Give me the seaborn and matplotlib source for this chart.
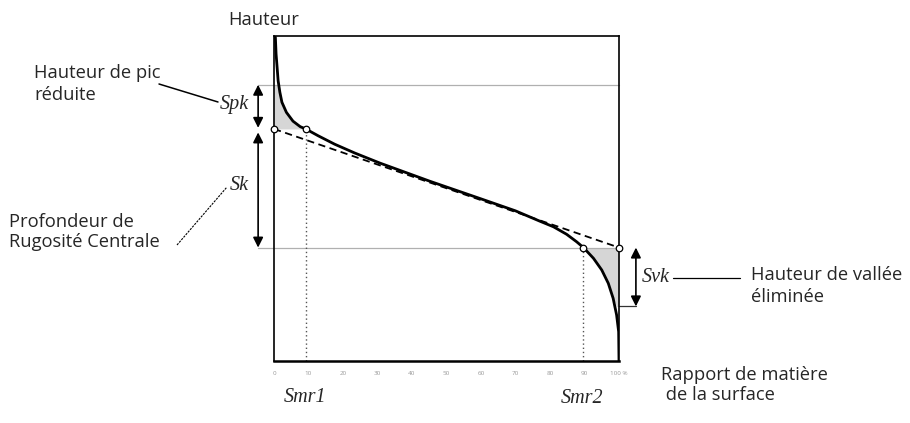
import matplotlib
matplotlib.use("Agg")
import matplotlib.pyplot as plt
from matplotlib.lines import Line2D
import numpy as np
import pandas as pd
import seaborn as sns

# ---------------- data ----------------
ratio_pct = [0, 0.4, 0.6, 0.9, 1.2, 1.7, 2.3, 3.6, 5.5, 7.6, 9.2, 12.8,
             17.6, 23.4, 30.7, 45.2, 59.7, 70.0, 77.1, 81.0, 84.8, 87.7,
             89.7, 92.6, 95.0, 96.9, 98.3, 99.3, 99.9, 100]
height = [100, 99.6, 94.5, 90.4, 86.2, 82.7, 79.6, 76.5, 73.8, 72.1, 71.4,
          69.3, 66.7, 64.0, 60.9, 55.3, 50.0, 46.2, 43.0, 41.3, 39.0, 36.7,
          34.9, 31.6, 28.0, 23.9, 19.3, 14.2, 9.0, 0]

spk_level = 85.0      # top of Spk
sk_top = 71.4         # top of core (Sk)
sk_bottom = 34.9      # bottom of core
svk_level = 16.8      # bottom of Svk
smr1 = 9.2
smr2 = 89.7

tick_values = [0, 10, 20, 30, 40, 50, 60, 70, 80, 90, 100]
tick_labels = ["0", "10", "20", "30", "40", "50", "60", "70", "80", "90", "100 %"]

# ---------------- style ----------------
sns.set_theme(style="white")
plt.rcParams["font.family"] = ["Open Sans", "DejaVu Sans"]

W, H = 910, 423
fig = plt.figure(figsize=(W / 100, H / 100), dpi=100)
fig.patch.set_facecolor("white")
ax = fig.add_axes([274 / W, 1 - 361 / H, 345 / W, 325 / H])
ax.set_facecolor("white")

df = pd.DataFrame({"ratio": ratio_pct, "height": height})
x = np.array(ratio_pct, dtype=float)
y = np.array(height, dtype=float)

# shaded areas
m1 = x <= smr1
ax.fill_between(x[m1], sk_top, np.minimum(y[m1], spk_level),
                color="#d6d6d6", lw=0, zorder=1)
m2 = x >= smr2
ax.fill_between(x[m2], np.maximum(y[m2], svk_level), sk_bottom,
                color="#d6d6d6", lw=0, zorder=1)

# horizontal reference lines
ax.plot([-4.6, 100], [spk_level, spk_level], color="#b0b0b0", lw=0.9,
        clip_on=False, zorder=2)
ax.plot([-4.6, 100], [sk_bottom, sk_bottom], color="#b0b0b0", lw=0.9,
        clip_on=False, zorder=2)

# equivalent straight line
ax.plot([0, 100], [sk_top, sk_bottom], color="black", lw=1.3,
        ls=(0, (4, 2.5)), zorder=3)

# dotted verticals
ax.plot([smr1, smr1], [0, sk_top], color="#555555", lw=1.0,
        ls=(0, (1, 2)), zorder=2)
ax.plot([smr2, smr2], [0, sk_bottom], color="#555555", lw=1.0,
        ls=(0, (1, 2)), zorder=2)

# bearing-area curve
sns.lineplot(data=df, x="ratio", y="height", sort=False, estimator=None,
             color="black", lw=2.0, ax=ax, zorder=4)

# circles
ax.scatter([0, smr1, smr2, 100], [sk_top, sk_top, sk_bottom, sk_bottom],
           s=22, facecolor="white", edgecolor="black", lw=0.9, zorder=6,
           clip_on=False)

ax.set_xlim(0, 100)
ax.set_ylim(0, 100)
ax.set_xlabel("")
ax.set_ylabel("")
ax.set_yticks([])
ax.set_xticks(tick_values)
ax.set_xticklabels(tick_labels, fontsize=4.5, color="#999999")
ax.tick_params(axis="x", length=0, pad=7)
for s in ax.spines.values():
    s.set_visible(True)
    s.set_color("black")
    s.set_linewidth(1.2)
ax.spines["bottom"].set_linewidth(1.8)

# arrows
ap = dict(arrowstyle="<|-|>,head_length=0.6,head_width=0.3", color="black",
          lw=1.2, mutation_scale=10)
ax.annotate("", xy=(-4.6, spk_level), xytext=(-4.6, sk_top),
            arrowprops=dict(ap, shrinkA=0.8, shrinkB=0), annotation_clip=False)
ax.annotate("", xy=(-4.6, sk_top), xytext=(-4.6, sk_bottom),
            arrowprops=dict(ap, shrinkA=0, shrinkB=2.5), annotation_clip=False)
ax.annotate("", xy=(104.9, sk_bottom), xytext=(104.9, svk_level),
            arrowprops=dict(ap, shrinkA=0, shrinkB=0), annotation_clip=False)
ax.plot([100, 104.9], [svk_level, svk_level], color="#333333", lw=0.9,
        clip_on=False)

# ---------------- text ----------------
def fp(px, py):
    return px / W, 1 - py / H

fs = 13.2
fig.text(*fp(264, 20), "Hauteur", ha="center", va="center", fontsize=fs)
fig.text(*fp(34, 84), "Hauteur de pic\nréduite", ha="left", va="center",
         fontsize=fs, linespacing=1.3)
fig.text(*fp(9, 232), "Profondeur de\nRugosité Centrale", ha="left",
         va="center", fontsize=fs, linespacing=1.2)
fig.text(*fp(751, 286), "Hauteur de vallée\néliminée", ha="left",
         va="center", fontsize=fs, linespacing=1.3)
fig.text(*fp(661, 385), "Rapport de matière\n de la surface", ha="left",
         va="center", fontsize=fs, linespacing=1.15)

sfam = ["Liberation Serif", "DejaVu Serif"]
sfs = 14.5
fig.text(*fp(234, 104), "Spk", ha="center", va="center", fontsize=sfs,
         style="italic", family=sfam)
fig.text(*fp(239, 186), "Sk", ha="center", va="center", fontsize=sfs,
         style="italic", family=sfam)
fig.text(*fp(656, 278), "Svk", ha="center", va="center", fontsize=sfs,
         style="italic", family=sfam)
fig.text(*fp(305, 397), "Smr1", ha="center", va="center", fontsize=sfs,
         style="italic", family=sfam)
fig.text(*fp(582, 398), "Smr2", ha="center", va="center", fontsize=sfs,
         style="italic", family=sfam)

# leader lines
def leader(p1, p2, **kw):
    a, b = fp(*p1)
    c, d = fp(*p2)
    fig.add_artist(Line2D([a, c], [b, d], transform=fig.transFigure,
                          color="black", **kw))

leader((159, 84), (218, 102), lw=1.1)
leader((177, 245), (227, 187), lw=0.8, ls=(0, (2, 1)))
leader((673, 278), (740, 278), lw=0.9)

fig.savefig("out.png", dpi=100, facecolor="white")
